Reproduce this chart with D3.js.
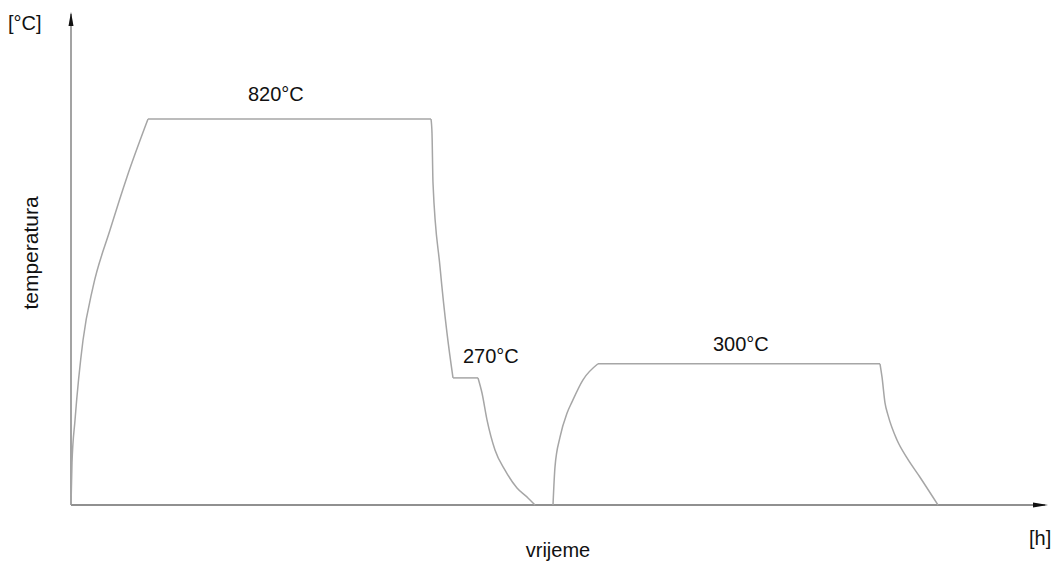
<!DOCTYPE html>
<html>
<head>
<meta charset="utf-8">
<script src="https://cdn.jsdelivr.net/npm/d3@7"></script>
<style>
  body { margin: 0; background: #fff; }
  text { font-family: "Liberation Sans", Arial, sans-serif; fill: #111; }
</style>
</head>
<body>
<svg id="drawing_region"></svg>
<script>
// time in arbitrary units, temperature in °C (schematic heat treatment)
const heat1 = [[0,0],[1,89],[4,180],[12,350],[22,463],[39,584],[56,697],[77,820]];
const hold1 = [[77,820],[360,820]];
const quench = [[360,820],[361,790],[362,684],[369,506],[376,365],[382,270]];
const hold2 = [[382,270],[407,270]];
const cool1 = [[407,270],[411,238],[416,181],[424,117],[434,74],[446,36],[457,15],[464,0]];
const heat2 = [[482,0],[484,81],[489,144],[496,195],[501,219],[512,266],[527,300]];
const hold3 = [[527,300],[809,300]];
const cool2 = [[809,300],[811,272],[814,217],[817,191],[826,138],[836,100],[849,59],[867,0]];

const labels = [
    {t: 177, temp: 820, text: "820°C", dy: -18},
    {t: 392, temp: 270, text: "270°C", dy: -15},
    {t: 642, temp: 300, text: "300°C", dy: -13}
];

const config = {
    width: 1057,
    height: 567,
    margin: {top: 14, right: 12, bottom: 62, left: 71}
};

const svg = d3.select('#drawing_region')
    .attr('width', config.width)
    .attr('height', config.height);

const x0 = config.margin.left;

const xscale = d3.scaleLinear()
    .domain([0, 974])
    .range([x0, x0 + 974]);

const yscale = d3.scaleLinear()
    .domain([0, 820])
    .range([505, 119]);

// axes
svg.append('line')
    .attr('x1', xscale(0)).attr('y1', yscale(0))
    .attr('x2', xscale(0)).attr('y2', 14)
    .attr('stroke', '#666').attr('stroke-width', 1.2);

svg.append('line')
    .attr('x1', xscale(0)).attr('y1', yscale(0))
    .attr('x2', 1045).attr('y2', yscale(0))
    .attr('stroke', '#222').attr('stroke-width', 1.2);

// arrow heads
svg.append('path')
    .attr('d', `M${xscale(0)},12 L${xscale(0) - 2.5},26 L${xscale(0) + 2.5},26 Z`)
    .attr('fill', '#111');
svg.append('path')
    .attr('d', `M1048,${yscale(0)} L1033,${yscale(0) - 2.5} L1033,${yscale(0) + 2.5} Z`)
    .attr('fill', '#111');

// curve
const smooth = d3.line()
    .curve(d3.curveMonotoneX)
    .x(d => xscale(d[0]))
    .y(d => yscale(d[1]));

const straight = d3.line()
    .x(d => xscale(d[0]))
    .y(d => yscale(d[1]));

[[heat1, smooth], [hold1, straight], [quench, smooth], [hold2, straight],
 [cool1, smooth], [heat2, smooth], [hold3, straight], [cool2, smooth]].forEach(([seg, gen]) => {
    svg.append('path')
        .datum(seg)
        .attr('d', gen)
        .attr('fill', 'none')
        .attr('stroke', '#a6a6a6')
        .attr('stroke-width', 1.5);
});

svg.selectAll('.templabel')
    .data(labels)
    .enter()
    .append('text')
    .attr('class', 'templabel')
    .attr('x', d => xscale(d.t))
    .attr('y', d => yscale(d.temp) + d.dy)
    .style('font-size', '20px')
    .text(d => d.text);

// unit labels and titles
svg.append('text')
    .attr('x', 8).attr('y', 30)
    .style('font-size', '20px')
    .text('[°C]');

svg.append('text')
    .attr('x', 1029).attr('y', 545)
    .style('font-size', '20px')
    .text('[h]');

svg.append('text')
    .attr('x', 558).attr('y', 557)
    .attr('text-anchor', 'middle')
    .style('font-size', '20px')
    .text('vrijeme');

svg.append('text')
    .attr('transform', 'translate(38, 253) rotate(-90)')
    .attr('text-anchor', 'middle')
    .style('font-size', '21px')
    .text('temperatura');
</script>
</body>
</html>
